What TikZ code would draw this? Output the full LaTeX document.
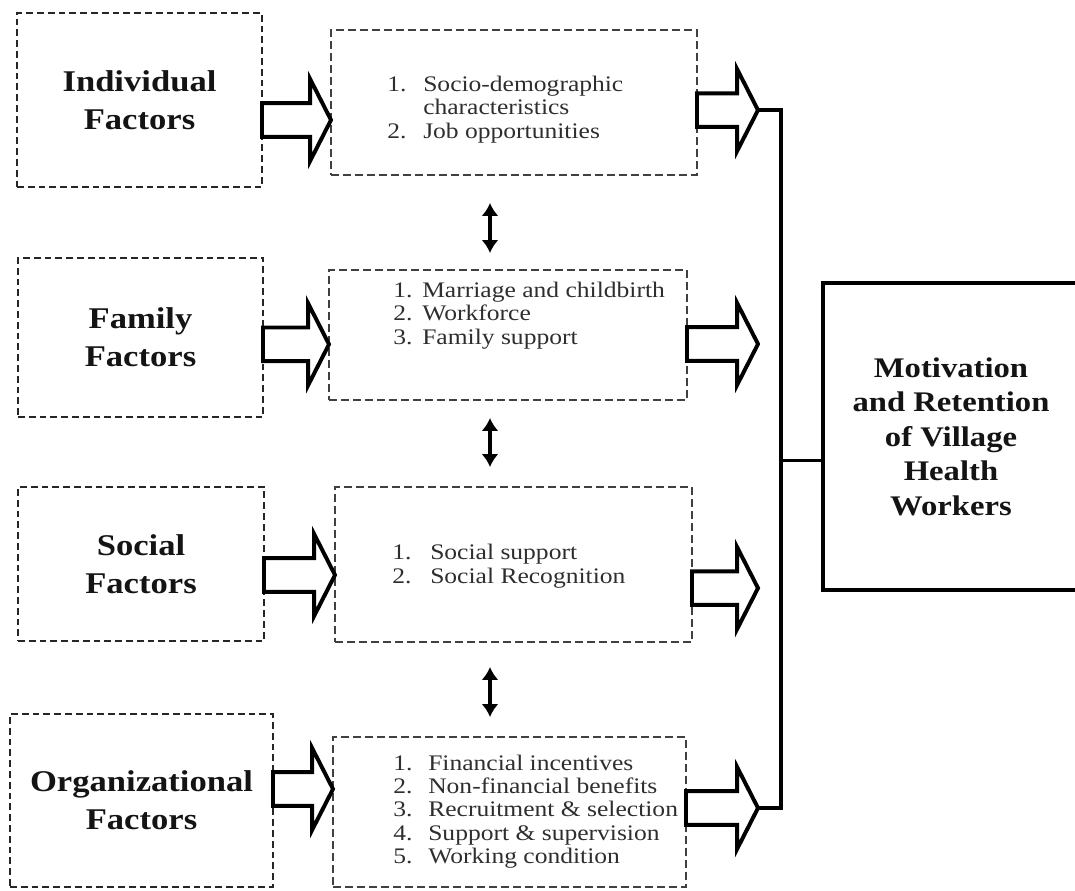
\documentclass[tikz,border=0pt]{standalone}
\usepackage{fontspec}
\setmainfont{Liberation Serif}[FakeStretch=1.15]
\usepackage{tikz}
\usetikzlibrary{arrows.meta,positioning,calc}
\newcommand{\numlist}[2]{\begin{tabular}{@{}p{#1}@{}l@{}}#2\end{tabular}}

\begin{document}
\begin{tikzpicture}[x=1cm,y=1cm,>=Latex]
  \tikzset{
    factorbox/.style={draw=black!85,line width=1.4pt,dash pattern=on 0.17cm off 0.1cm,
      inner sep=0pt,outer sep=0pt,align=center,text=black!92,
      font=\fontsize{21.4}{27}\selectfont\bfseries},
    listbox/.style={draw=black!75,line width=1.2pt,dash pattern=on 0.19cm off 0.11cm,
      inner sep=0pt,outer sep=0pt},
    listtext/.style={anchor=west,inner sep=0pt,text=black!82,
      font=\fontsize{15.8}{16.6}\selectfont},
    goalbox/.style={draw,line width=2.6pt,inner sep=0pt,outer sep=0pt,align=center,
      text=black!92,font=\fontsize{20.2}{24.5}\selectfont\bfseries},
    hollow/.style={draw=black,fill=white,line width=2.8pt,line join=miter,
      to path={let \p1=(\tikztostart),\p2=(\tikztotarget) in
        (\x1,\y1+0.42cm) -- (\x2-0.52cm,\y1+0.42cm) -- (\x2-0.52cm,\y1+1.02cm)
        -- (\x2,\y1) -- (\x2-0.52cm,\y1-1.02cm) -- (\x2-0.52cm,\y1-0.42cm)
        -- (\x1,\y1-0.42cm) -- cycle}},
    dbl/.style={<->,>={Latex[length=3.2mm,width=4.2mm]},line width=2.4pt},
    bus/.style={line width=2.5pt},
  }
  \useasboundingbox (0,0) rectangle (26.875,-22.25);

  % factor groups
  \node[factorbox,minimum width=6.125cm,minimum height=4.35cm] (ind) at (3.4875,-2.5) {Individual\\Factors};
  \node[factorbox,minimum width=6.125cm,minimum height=3.975cm] (fam) at (3.5125,-8.4375) {Family\\Factors};
  \node[factorbox,minimum width=6.15cm,minimum height=3.85cm] (soc) at (3.525,-14.1) {Social\\Factors};
  \node[factorbox,minimum width=6.575cm,minimum height=4.325cm] (org) at (3.5375,-20.0125) {Organizational\\Factors};

  % detail boxes
  \node[listbox,minimum width=9.15cm,minimum height=3.625cm] (b1) at (12.85,-2.5625) {};
  \node[listbox,minimum width=8.95cm,minimum height=3.25cm] (b2) at (12.7,-8.375) {};
  \node[listbox,minimum width=8.925cm,minimum height=3.875cm] (b3) at (12.8375,-14.1125) {};
  \node[listbox,minimum width=8.825cm,minimum height=3.75cm] (b4) at (12.7375,-20.3) {};

  \node[listtext] (l1) at ([xshift=1.4cm,yshift=-0.19cm]b1.west)
    {\numlist{0.9cm}{1. & Socio-demographic\\ & characteristics\\ 2. & Job opportunities}};
  \node[listtext] (l2) at ([xshift=1.6cm,yshift=0.475cm]b2.west)
    {\numlist{0.725cm}{1. & Marriage and childbirth\\ 2. & Workforce\\ 3. & Family support}};
  \node[listtext] (l3) at ([xshift=1.425cm,yshift=-0.06cm]b3.west)
    {\numlist{0.95cm}{1. & Social support\\ 2. & Social Recognition}};
  \node[listtext] (l4) at ([xshift=1.5cm]b4.west)
    {\numlist{0.875cm}{1. & Financial incentives\\ 2. & Non-financial benefits\\
      3. & Recruitment \& selection\\ 4. & Support \& supervision\\ 5. & Working condition}};

  % outcome
  \node[goalbox,minimum width=6.4cm,minimum height=7.675cm] (goal) at (23.775,-10.9125)
    {Motivation\\and Retention\\of Village\\Health\\Workers};

  \coordinate (mid) at (12.25,0);
  \coordinate (bus) at (19.525,0);
  \coordinate (tip1) at (18.95,-2.75);
  \coordinate (tip2) at (18.95,-8.6);
  \coordinate (tip3) at (18.95,-14.7);
  \coordinate (tip4) at (18.95,-20.2);

  % group -> detail
  \draw[hollow] ([yshift=-0.5cm]ind.east) to (b1.west);
  \draw[hollow] ([yshift=-0.17cm]fam.east) to (b2.west);
  \draw[hollow] ([yshift=-0.275cm]soc.east) to (b3.west);
  \draw[hollow] ([yshift=0.2875cm]org.east) to (b4.west);

  % detail -> outcome
  \draw[hollow] ([yshift=-0.19cm]b1.east) to (tip1);
  \draw[hollow] ([yshift=-0.225cm]b2.east) to (tip2);
  \draw[hollow] ([yshift=-0.59cm]b3.east) to (tip3);
  \draw[hollow] ([yshift=0.1cm]b4.east) to (tip4);

  \draw[bus] (tip1) -- (tip1 -| bus) -- (tip4 -| bus) -- (tip4);
  \draw[bus] ([yshift=-0.6cm]goal.west -| bus) -- ([yshift=-0.6cm]goal.west);

  % links between details
  \draw[dbl,shorten <=0.7cm,shorten >=0.425cm] (b1.south -| mid) -- (b2.north -| mid);
  \draw[dbl,shorten <=0.45cm,shorten >=0.5cm] (b2.south -| mid) -- (b3.north -| mid);
  \draw[dbl,shorten <=0.625cm,shorten >=0.5cm] (b3.south -| mid) -- (b4.north -| mid);
\end{tikzpicture}
\end{document}
